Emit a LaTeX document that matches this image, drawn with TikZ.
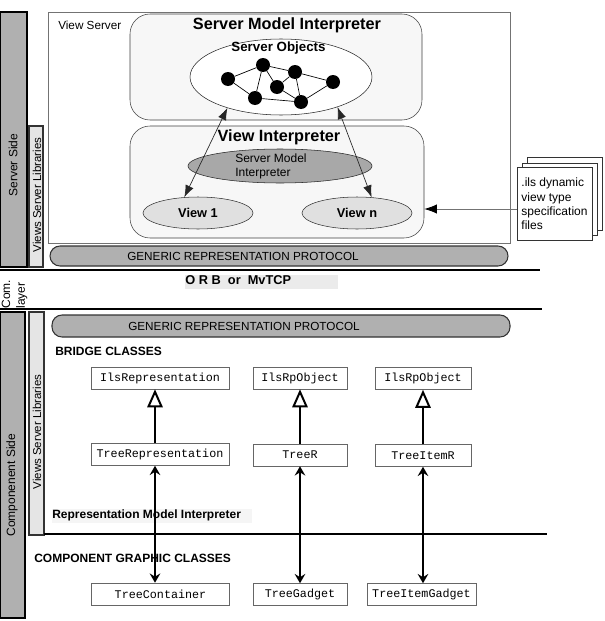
\documentclass[tikz,border=0pt]{standalone}
\usepackage{fontspec}
\setmainfont{Liberation Sans}
\newfontfamily\classfont{Liberation Mono}
\usetikzlibrary{arrows.meta,shapes.geometric}

\definecolor{bargray}{gray}{0.69}
\definecolor{libgray}{gray}{0.9}
\definecolor{boxgray}{gray}{0.97}
\definecolor{smigray}{gray}{0.66}
\definecolor{viewgray}{gray}{0.88}
\definecolor{orbgray}{gray}{0.92}
\definecolor{rmigray}{gray}{0.96}

\tikzset{
  sidebar/.style={draw=black, line width=0.9pt, fill=bargray},
  libbar/.style={draw=black!80, line width=0.8pt, fill=libgray},
  sidetext/.style={rotate=90, font=\fontsize{9}{11}\selectfont},
  interpbox/.style={draw=black!75, fill=boxgray, rounded corners=15pt},
  protocol/.style={draw=black!80, line width=0.8pt, fill=bargray, rounded corners=7.5pt},
  plainlabel/.style={anchor=base west, inner sep=0pt, font=\fontsize{8.8}{10}\selectfont},
  headline/.style={font=\bfseries\fontsize{12.2}{14}\selectfont},
  sublabel/.style={anchor=base west, inner sep=0pt, font=\bfseries\fontsize{9}{11}\selectfont},
  viewell/.style={ellipse, draw=black!80, fill=viewgray, minimum width=82.5pt, minimum height=24pt, inner sep=0pt, font=\bfseries\fontsize{9.6}{11}\selectfont},
  obj/.style={circle, fill=black, minimum size=10.5pt, inner sep=0pt},
  classbox/.style={draw=black!60, fill=white, minimum height=16.5pt, inner sep=0pt, font=\classfont\fontsize{8.8}{10}\selectfont},
  page/.style={draw=black!80, fill=white},
  layerline/.style={line width=1.2pt},
  thinarrow/.style={{Latex[length=9pt,width=6.5pt]}-{Latex[length=9pt,width=6.5pt]}, draw=black!85, line width=0.5pt},
  filearrow/.style={-{Latex[length=9.5pt,width=7pt,color=black]}, draw=black!55, line width=0.6pt},
  inherit/.style={-{Triangle[open,length=13.5pt,width=11.5pt]}, line width=1.5pt},
  link/.style={{Stealth[length=7pt,width=8pt,inset=2.5pt]}-{Stealth[length=7pt,width=8pt,inset=2.5pt]}, line width=1.5pt},
}

\begin{document}
\begin{tikzpicture}[x=0.75pt,y=0.75pt,yscale=-1]
\useasboundingbox (0,0) rectangle (605,621);

%Shape: Rectangle [server side bars]
\draw[sidebar] (0,12) rectangle (27,267);
\node[sidetext] (serverside) at (13,165) {Server Side};
\draw[libbar] (29,126) rectangle (43,267);
\node[sidetext, font=\fontsize{8.6}{10}\selectfont] (serverlibs) at (37,195) {Views Server Libraries};

%Shape: Rectangle [view server]
\node[draw=black!55, fill=white, minimum width=346.5pt, minimum height=173.25pt] (viewserver) at (279,127.5) {};
\node[plainlabel] (viewservertxt) at (58,29.3) {View Server};

%Shape: Rounded Rect [server model interpreter]
\node[interpbox, minimum width=219pt, minimum height=79.5pt] (smodel) at (276,67) {};
\node[headline] (smodeltxt) at (287,25) {Server Model Interpreter};
\node[ellipse, draw=black!85, fill=white, minimum width=136.5pt, minimum height=57pt] (objects) at (281,77) {};
\node[font=\bfseries\fontsize{10}{12}\selectfont] (objectstxt) at (278.5,48.5) {Server Objects};

% server objects
\node[obj] (o1) at (228,79) {};
\node[obj] (o2) at (263,65) {};
\node[obj] (o3) at (295,72) {};
\node[obj] (o4) at (277,87) {};
\node[obj] (o5) at (255,98) {};
\node[obj] (o6) at (301,102) {};
\node[obj] (o7) at (333,82) {};
\foreach \a/\b in {o1/o2, o1/o5, o2/o3, o2/o5, o2/o4, o3/o4, o3/o6, o3/o7, o4/o6, o5/o6, o6/o7}
  \draw[line width=0.5pt] (\a) -- (\b);

%Shape: Rounded Rect [view interpreter]
\node[interpbox, minimum width=220.5pt, minimum height=84pt] (vinterp) at (277,182) {};
\node[headline] (vinterptxt) at (279,137) {View Interpreter};
\node[ellipse, draw=black!85, fill=smigray, minimum width=138pt, minimum height=25.5pt] (smiell) at (280,166) {};
\node[anchor=west, inner sep=0pt, align=left, font=\fontsize{9}{10.5}\selectfont] (smitxt) at (235,166) {Server Model\\Interpreter};
\node[viewell] (view1) at (198,213) {View 1};
\node[viewell] (viewn) at (357,213) {View n};

%Straight Lines
\draw[thinarrow] (objects.210) -- (view1.131);
\draw[thinarrow] (objects.332) -- (viewn.47);

% spec files
\draw[page] (527,157) rectangle (602,230);
\draw[page] (522,163) rectangle (597,235);
\node[page, minimum width=56.25pt, minimum height=54.75pt, align=left, inner sep=2pt, font=\fontsize{9}{10.7}\selectfont] (files) at (554.5,204) {.ils dynamic\\view type\\specification\\files};
\draw[filearrow] ([yshift=3.75pt]files.west) -- ([yshift=3.75pt]files.west -| vinterp.east);

% protocol (server)
\draw[protocol] (50,246) rectangle (508,266);
\node[plainlabel] (grptop) at (127,260) {GENERIC REPRESENTATION PROTOCOL};

% com. layer
\draw[layerline] (0,270) -- (540,270);
\fill[orbgray] (185,275) rectangle (338,289);
\node[sublabel, font=\bfseries\fontsize{9.6}{11}\selectfont] (orb) at (185,284) {O R B\ \ or\ \ MvTCP};
\node[rotate=90, align=left, inner sep=0pt, font=\fontsize{9}{11}\selectfont] (comlayer) at (14.5,294) {Com.\\layer};
\draw[layerline] (0,309) -- (542,309);

%Shape: Rectangle [component side bars]
\draw[sidebar] (0,312) rectangle (25,618);
\node[sidetext] (compside) at (12,485) {Componenent Side};
\draw[libbar] (29,312) rectangle (44,535);
\node[sidetext, font=\fontsize{8.6}{10}\selectfont] (complibs) at (37,432) {Views Server Libraries};

% protocol (component)
\draw[protocol] (52,315) rectangle (510,337);
\node[plainlabel] (grpbot) at (128,330) {GENERIC REPRESENTATION PROTOCOL};

\node[sublabel] (bridge) at (55,355) {BRIDGE CLASSES};
\fill[rmigray] (52,509) rectangle (252,523);
\node[sublabel] (rmi) at (52,518.3) {Representation Model Interpreter};
\draw[line width=0.9pt] (44,534) -- (547,534);
\node[sublabel] (graphic) at (34,562.7) {COMPONENT GRAPHIC CLASSES};

% Text Node [classes]
\node[classbox, minimum width=103.5pt] (ilsrep) at (160,378) {IlsRepresentation};
\node[classbox, minimum width=103.5pt] (treerep) at (160,454.5) {TreeRepresentation};
\node[classbox, minimum width=103.5pt] (treecont) at (160.5,594) {TreeContainer};
\node[classbox, minimum width=70.5pt] (rpobj) at (300,378) {IlsRpObject};
\node[classbox, minimum width=70.5pt] (treer) at (300,455) {TreeR};
\node[classbox, minimum width=70.5pt] (treegad) at (300,594.5) {TreeGadget};
\node[classbox, minimum width=72pt] (rpobjb) at (423,378.5) {IlsRpObject};
\node[classbox, minimum width=72pt] (treeitemr) at (423,455.5) {TreeItemR};
\node[classbox, minimum width=81.75pt] (treeitemg) at (421.5,594.5) {TreeItemGadget};

%Straight Lines [inheritance]
\draw[inherit] ([xshift=-3.75pt]treerep.north) -- ([xshift=-3.75pt]treerep.north |- ilsrep.south);
\draw[inherit] (treer.north) -- (rpobj.south);
\draw[inherit] (treeitemr.north) -- (rpobjb.south);
%Straight Lines [links]
\draw[link] ([xshift=-3.75pt]treerep.south) -- ([xshift=-3.75pt]treerep.south |- treecont.north);
\draw[link] (treer.south) -- (treegad.north);
\draw[link] (treeitemr.south) -- (treeitemr.south |- treeitemg.north);

\end{tikzpicture}
\end{document}
